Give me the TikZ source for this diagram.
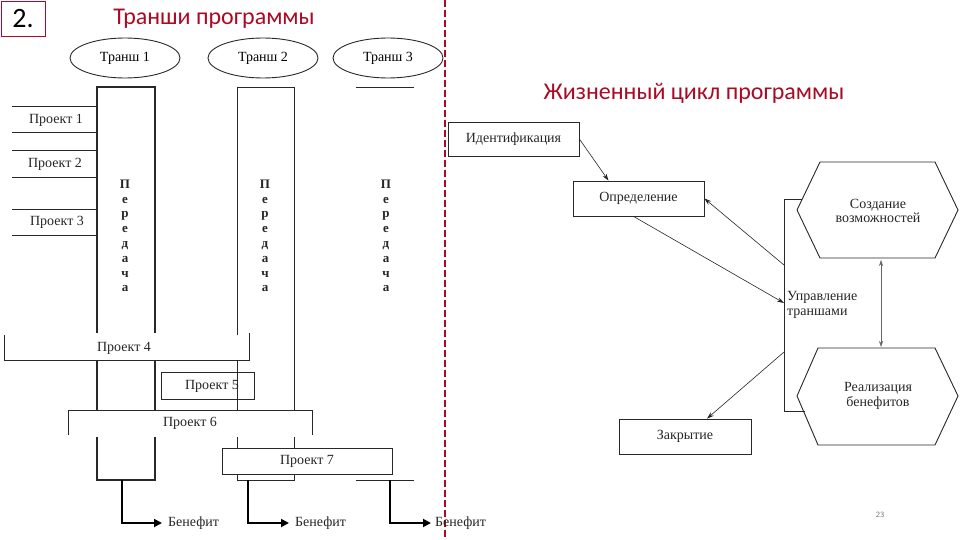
\documentclass[tikz,border=0pt]{standalone}
\usepackage{fontspec}
\setmainfont{Liberation Serif}
\newfontfamily\titlefont{Carlito}
\usetikzlibrary{shapes.geometric,arrows.meta}
\definecolor{titlered}{RGB}{170,10,36}
\definecolor{lineblack}{RGB}{40,40,40}
\begin{document}
\begin{tikzpicture}[x=1pt,y=-1pt,
  lab/.style={font=\fontsize{14}{16}\selectfont, inner sep=0pt, text=black!85},
  thin line/.style={line width=0.7pt, draw=lineblack},
  thick col/.style={line width=1.4pt, draw=lineblack},
  tranche/.style={ellipse, draw=lineblack, line width=0.9pt, minimum width=110pt, minimum height=40pt, inner sep=0pt, font=\fontsize{14}{16}\selectfont},
  vert/.style={font=\bfseries\fontsize{13}{14.8}\selectfont, align=center, inner sep=0pt, text=black!85},
  boxnode/.style={draw=lineblack, line width=0.8pt, inner sep=0pt, font=\fontsize{14}{16}\selectfont, text=black!85},
  benarrow/.style={line width=1.8pt, draw=black, -{Triangle[length=8pt,width=8pt]}},
  lc/.style={line width=0.6pt, draw=black!85, -{Stealth[length=7pt,width=4.5pt]}},
  bigtitle/.style={font=\titlefont\fontsize{24}{28}\selectfont, text=titlered, inner sep=0pt}
]
\useasboundingbox (0,0) rectangle (960,540);
\fill[white] (0,0) rectangle (960,540);

% header
\node[draw=titlered, line width=0.8pt, minimum width=44pt, minimum height=35pt, inner sep=0pt,
      font=\titlefont\fontsize{28}{30}\selectfont] (num) at (23,18.5) {2.};
\node[bigtitle] (t1) at (214,19) {Транши программы};
\node[bigtitle] (t2) at (694,93) {Жизненный цикл программы};

% separator
\draw[titlered, line width=1.6pt, dash pattern=on 7pt off 3pt] (445,0) -- (445,540);

% tranches
\node[tranche] (tr1) at (125,58) {Транш 1};
\node[tranche] (tr2) at (263,58) {Транш 2};
\node[tranche] (tr3) at (388,58) {Транш 3};

% column 1 (thick)
\draw[thick col] (97,333) -- (97,87) -- (155,87) -- (155,333);
\draw[thick col] (97,360) -- (97,410) (155,360) -- (155,410);
\draw[thick col] (97,437) -- (97,480) -- (155,480) -- (155,437);
% column 2
\draw[thin line] (237,335) -- (237,87) -- (294,87) -- (294,410);
\draw[thin line] (237,360) -- (237,410);
\draw[thin line] (237,437) -- (237,448) (294,437) -- (294,448);
\draw[thin line] (237,474) -- (237,480) -- (294,480) -- (294,474);
% column 3
\draw[thin line] (356,87) -- (414,87);
\draw[thin line] (356,480) -- (414,480);

% Передача
\node[vert] (v1) at (125,236) {П\\е\\р\\е\\д\\а\\ч\\а};
\node[vert] (v2) at (265,236) {П\\е\\р\\е\\д\\а\\ч\\а};
\node[vert] (v3) at (386,236) {П\\е\\р\\е\\д\\а\\ч\\а};

% projects 1-3
\draw[thin line] (12,106) -- (97,106) (12,132) -- (97,132);
\draw[thin line] (12,150) -- (97,150) (12,177) -- (97,177);
\draw[thin line, line width=1pt] (12,209) -- (97,209);
\draw[thin line] (12,235) -- (97,235);
\node[lab] (p1) at (56,120) {Проект 1};
\node[lab] (p2) at (55,164) {Проект 2};
\node[lab] (p3) at (57,222) {Проект 3};

% project 4
\draw[thin line] (4,335) -- (4,360) -- (249,360) -- (249,333);
\node[lab] (p4) at (124,348) {Проект 4};
% project 5
\node[boxnode, minimum width=93pt, minimum height=27pt] (p5box) at (207.5,385.5) {};
\node[lab] (p5) at (212,386) {Проект 5};
% project 6
\draw[thin line] (68,435) -- (68,410) -- (312,410) -- (312,435);
\node[lab] (p6) at (190,423) {Проект 6};
% project 7
\node[boxnode, fill=white, minimum width=170pt, minimum height=26pt] (p7box) at (307,461) {};
\node[lab] (p7) at (307,461.5) {Проект 7};

% benefits
\node[lab, anchor=west] (b1) at (168,523) {Бенефит};
\node[lab, anchor=west] (b2) at (295,523) {Бенефит};
\node[lab, anchor=west] (b3) at (435,523) {Бенефит};
\coordinate (c1) at (122,480);
\coordinate (c2) at (248,480);
\coordinate (c3) at (390,480);
\draw[benarrow] (c1) |- ([xshift=-6pt]b1.west);
\draw[benarrow] (c2) |- ([xshift=-6pt]b2.west);
\draw[benarrow] (c3) |- ([xshift=-4pt]b3.west);

% life cycle
\node[boxnode, minimum width=131pt, minimum height=34pt] (idn) at (513.5,139) {Идентификация};
\node[boxnode, minimum width=131pt, minimum height=35pt] (opr) at (638.5,198.5) {Определение};
\node[boxnode, minimum width=132pt, minimum height=35pt] (zak) at (685,436.5) {Закрытие};

% hexagons
\draw[line width=0.9pt, draw=lineblack] (797,210) -- (820,162) -- (935,162) -- (958,210) -- (935,258) -- (820,258) -- cycle;
\draw[line width=0.9pt, draw=lineblack] (797,396) -- (818,348) -- (935,348) -- (958,396) -- (935,445) -- (818,445) -- cycle;
\node[font=\fontsize{14}{14.5}\selectfont, align=center, inner sep=0pt, text=black!85] (h1) at (878,211) {Создание\\возможностей};
\node[font=\fontsize{14}{14.5}\selectfont, align=center, inner sep=0pt, text=black!85] (h2) at (878,396) {Реализация\\бенефитов};
\coordinate (h1s) at (881,260);
\coordinate (h2n) at (881,347);
\draw[line width=0.5pt, draw=black!60, {Stealth[length=6pt,width=4pt]}-{Stealth[length=6pt,width=4pt]}] (h1s) -- (h2n);

% bracket
\draw[line width=0.8pt, draw=lineblack] (802,199) -- (784,199) -- (784,411) -- (805,411);
\node[font=\fontsize{14}{15}\selectfont, align=left, inner sep=0pt, anchor=west, text=black!85] (upr) at (787,305) {Управление\\траншами};
\coordinate (k1) at (784,265);
\coordinate (k2) at (784,303);
\coordinate (k3) at (784,352);

\draw[lc] (idn.east) -- ([xshift=-30pt]opr.north);
\draw[lc] (k1) -- (opr.east);
\draw[lc] ([xshift=-5pt]opr.south) -- (k2);
\draw[lc] (k3) -- ([xshift=22pt]zak.north);

% page number
\node[font=\sffamily\fontsize{8}{9}\selectfont, text=black!55, inner sep=0pt] (pg) at (880,515) {23};
\end{tikzpicture}
\end{document}
